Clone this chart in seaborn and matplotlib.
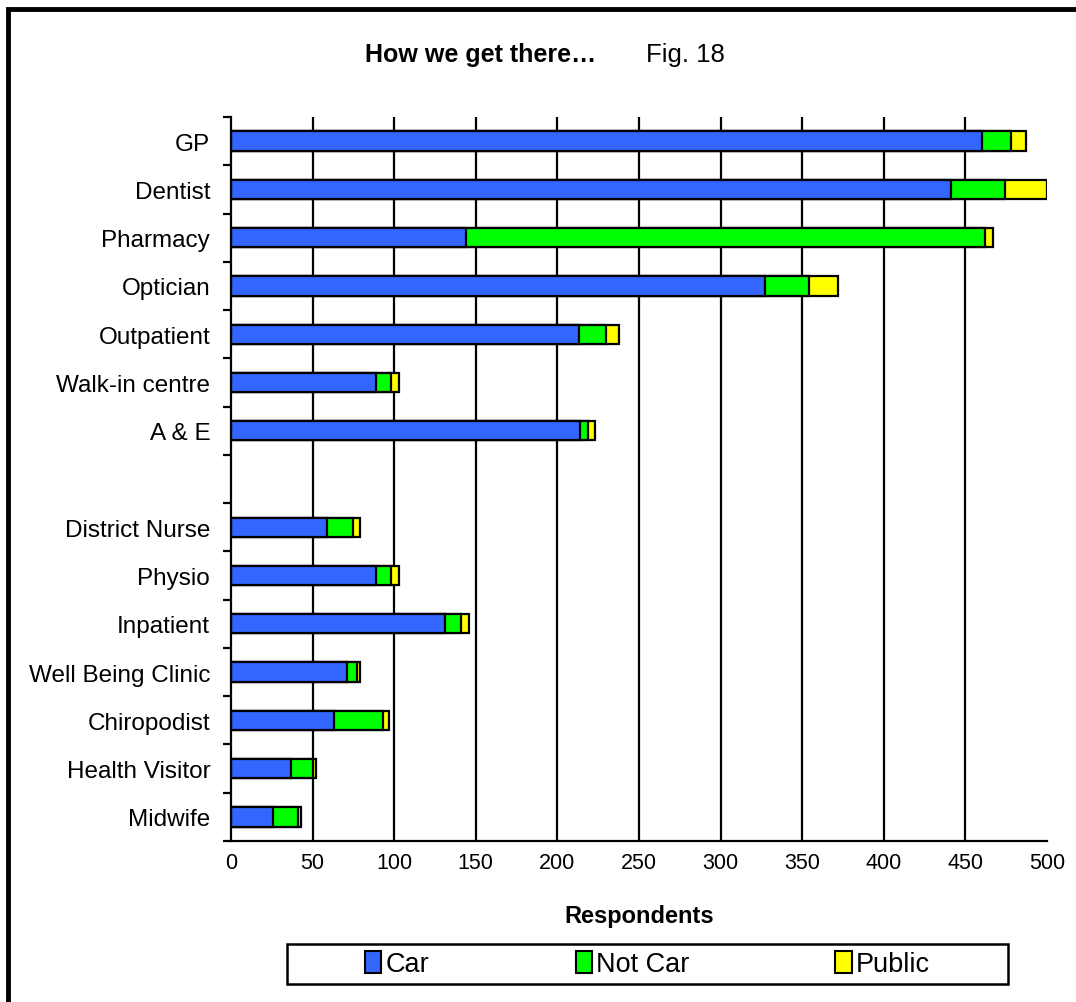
import matplotlib
matplotlib.use("Agg")
import matplotlib.pyplot as plt
from matplotlib.patches import Rectangle, Patch
import seaborn as sns
import pandas as pd

# values (respondents)
places = ["GP", "Dentist", "Pharmacy", "Optician", "Outpatient", "Walk-in centre", "A & E",
          " ",
          "District Nurse", "Physio", "Inpatient", "Well Being Clinic", "Chiropodist",
          "Health Visitor", "Midwife"]
car     = [460, 441, 144, 327, 213, 89, 214, None, 59, 89, 131, 71, 63, 37, 26]
not_car = [18, 33, 318, 27, 17, 9, 5, None, 16, 9, 10, 6, 30, 13, 15]
public  = [9, 26, 5, 18, 8, 5, 4, None, 4, 5, 5, 2, 4, 2, 2]

series = ["Car", "Not Car", "Public"]
colours = ["#3366FF", "#00FF00", "#FFFF00"]

df = pd.DataFrame({"place": places, "Car": car, "Not Car": not_car, "Public": public})
df = df.dropna()
df["s1"] = df["Car"]
df["s2"] = df["Car"] + df["Not Car"]
df["s3"] = df["s2"] + df["Public"]

sns.set_style("white")
plt.rcParams["font.family"] = ["Liberation Sans", "DejaVu Sans"]
plt.rcParams["text.color"] = "black"
plt.rcParams["xtick.labelcolor"] = "black"
plt.rcParams["ytick.labelcolor"] = "black"
plt.rcParams["axes.labelcolor"] = "black"

fig = plt.figure(figsize=(10.76, 10.03), dpi=100)
W, H = 1076, 1003
ax = fig.add_axes([231 / W, 1 - 842 / H, (1047 - 231) / W, (842 - 118) / H])

for col, c in zip(["s3", "s2", "s1"], colours[::-1]):
    sns.barplot(data=df, y="place", x=col, order=places, orient="h", color=c,
                width=0.4, edgecolor="black", linewidth=1.6, saturation=1, ax=ax, zorder=3)

for v in range(50, 500, 50):
    ax.axvline(v, color="black", lw=1.6, zorder=1)

ax.set_xlim(0, 500)
ax.set_ylim(len(places) - 0.5, -0.5)
ax.set_xticks(range(0, 501, 50))
ax.tick_params(axis="x", direction="inout", length=10, width=1.6, labelsize=15.5, pad=3, color="black")
ax.set_yticks(range(len(places)))
ax.set_yticklabels(places)
ax.set_yticks([i - 0.5 for i in range(len(places) + 1)], minor=True)
ax.tick_params(axis="y", which="major", length=0, labelsize=17.5, pad=15)
ax.tick_params(axis="y", which="minor", direction="out", length=6, width=1.6, color="black", left=True)
ax.set_ylabel("")
ax.set_xlabel("Respondents", fontsize=17, fontweight="bold", labelpad=22)
for s in ["top", "right"]:
    ax.spines[s].set_visible(False)
for s in ["left", "bottom"]:
    ax.spines[s].set_color("black")
    ax.spines[s].set_linewidth(1.6)
ax.spines["left"].set_zorder(4)

# title
fig.text(365 / W, 1 - 55 / H, "How we get there…", fontsize=18, fontweight="bold", ha="left", va="center")
fig.text(646 / W, 1 - 55 / H, "Fig. 18", fontsize=18.5, ha="left", va="center")

# legend with its own box
handles = [Patch(facecolor=c, edgecolor="black", linewidth=1.5) for c in colours]
fig.legend(handles, series, loc="center", bbox_to_anchor=((287 + 1008) / 2 / W, 1 - 965 / H),
           ncol=3, frameon=False, fontsize=19.5, handlelength=0.6, handleheight=0.9,
           handletextpad=0.15, columnspacing=5.4)
fig.patches.append(Rectangle((287 / W, 1 - 985 / H), (1008 - 287) / W, 40 / H,
                             transform=fig.transFigure, fill=False, edgecolor="black", lw=1.8))

# outer frame
fig.patches.append(Rectangle((8 / W, -0.1), 1.2, 1.1 - 10 / H, transform=fig.transFigure,
                             fill=False, edgecolor="black", lw=3.5))

fig.savefig("out.png", dpi=100)
